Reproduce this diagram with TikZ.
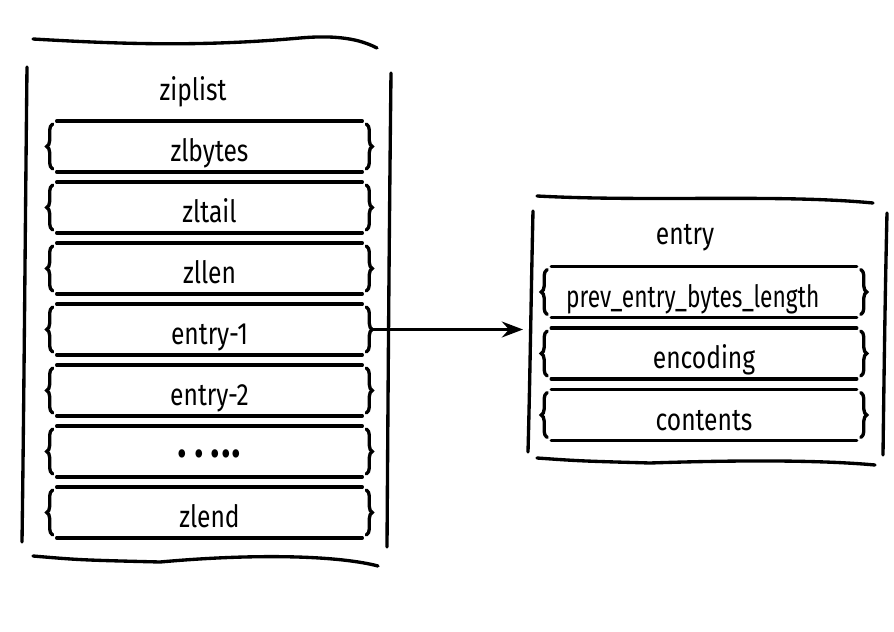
\documentclass[tikz,border=0pt]{standalone}
\usepackage{fontspec}
\setmainfont[FakeStretch=0.8]{Fira Sans}
\usetikzlibrary{arrows.meta,decorations.pathreplacing}

\tikzset{
    hand/.style={line width=1.9pt, line cap=round},
    slot/.style={minimum width=6.5cm, minimum height=1cm, inner sep=0pt, text height=0.62cm, text depth=0pt, font=\fontsize{17.5}{20}\selectfont},
    title/.style={inner sep=0pt, font=\fontsize{17.5}{20}\selectfont},
    curly/.style={hand, decorate, decoration={brace, amplitude=0.12cm}},
}

\begin{document}
\begin{tikzpicture}[x=0.02cm, y=-0.02cm]
    \useasboundingbox (0,0) rectangle (894,632);

    % ziplist frame
    \draw[hand] (33,39) .. controls (120,44) and (200,47) .. (300,38) .. controls (345,34) and (365,42) .. (377,48);
    \draw[hand] (27,67) .. controls (25,250) and (24,400) .. (22,542);
    \draw[hand] (391,73) .. controls (389,250) and (388,400) .. (387,547);
    \draw[hand] (33,556) .. controls (80,560) .. (160,562) .. controls (260,553) and (340,556) .. (378,566);
    \node[title] (ziplist) at (193,92) {ziplist};

    \foreach \name/\field [count=\i from 0] in {zlbytes/zlbytes, zltail/zltail, zllen/zllen, e1/entry-1, e2/entry-2, more/{\fontsize{21}{20}\selectfont •\hspace{4pt}•\hspace{4pt}•\kern0.5pt•\kern0.5pt•}, zlend/zlend} {
        \node[slot] (\name) at (209.5,146.5+61*\i) {\field};
        \draw[hand] ([xshift=0.2cm]\name.north west) -- ([xshift=-0.2cm]\name.north east);
        \draw[hand] ([xshift=0.2cm]\name.south west) -- ([xshift=-0.2cm]\name.south east);
        \draw[curly] ([shift={(0.12cm,0.06cm)}]\name.south west) -- ([shift={(0.12cm,-0.06cm)}]\name.north west);
        \draw[curly] ([shift={(-0.12cm,-0.06cm)}]\name.north east) -- ([shift={(-0.12cm,0.06cm)}]\name.south east);
    }

    % entry frame
    \draw[hand] (537,196) .. controls (650,202) and (780,194) .. (873,203);
    \draw[hand] (533,211) .. controls (531,300) and (530,380) .. (528,452);
    \draw[hand] (887,213) .. controls (885,300) and (884,380) .. (883,455);
    \draw[hand] (537,458) .. controls (580,461) .. (650,463) .. controls (740,460) and (820,460) .. (875,465);
    \node[title] (entry) at (685,238) {entry};

    \foreach \name/\field [count=\i from 0] in {prev/{\kern-0.45cm\addfontfeature{FakeStretch=0.74}prev\_entry\_bytes\_length}, enc/encoding, cont/contents} {
        \node[slot] (\name) at (704,292+61.5*\i) {\field};
        \draw[hand] ([xshift=0.2cm]\name.north west) -- ([xshift=-0.2cm]\name.north east);
        \draw[hand] ([xshift=0.2cm]\name.south west) -- ([xshift=-0.2cm]\name.south east);
        \draw[curly] ([shift={(0.12cm,0.06cm)}]\name.south west) -- ([shift={(0.12cm,-0.06cm)}]\name.north west);
        \draw[curly] ([shift={(-0.12cm,-0.06cm)}]\name.north east) -- ([shift={(-0.12cm,0.06cm)}]\name.south east);
    }

    \coordinate (ein) at (523,329.5);
    \draw[hand, -{Stealth[length=12pt, width=9pt, inset=4pt]}] (e1.east) -- (ein);
\end{tikzpicture}
\end{document}
